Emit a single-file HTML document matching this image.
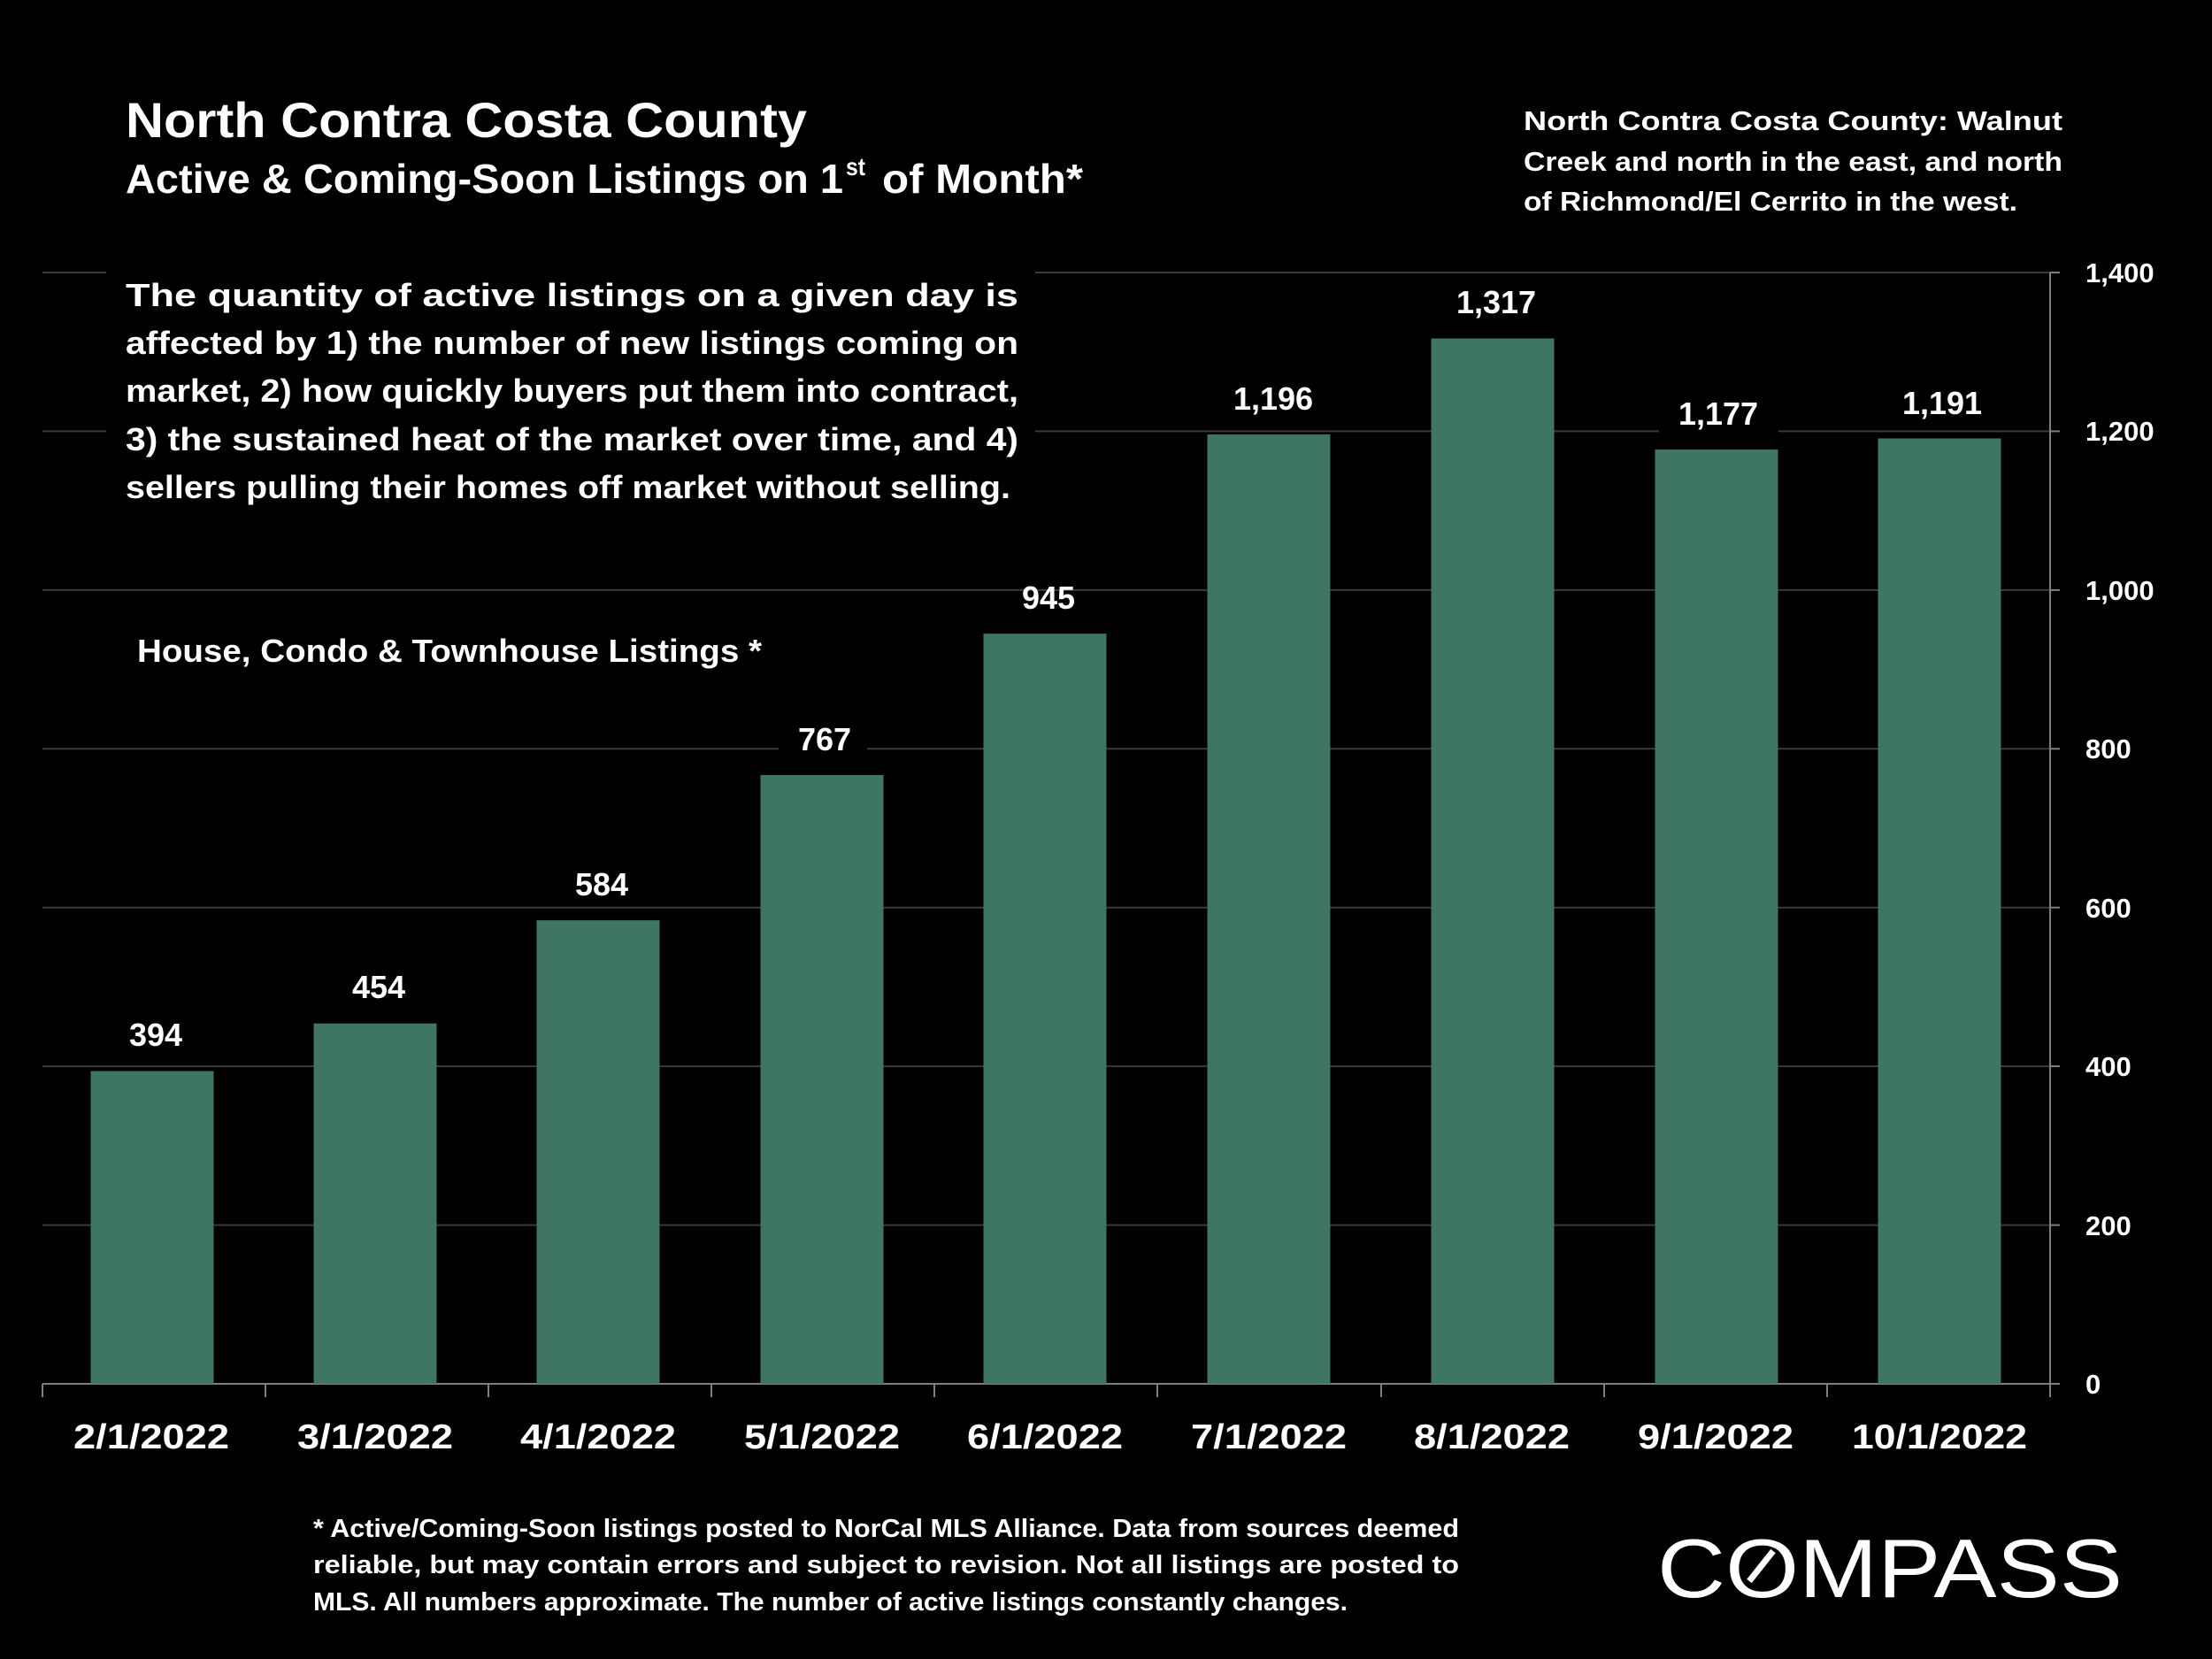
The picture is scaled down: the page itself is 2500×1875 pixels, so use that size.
<!DOCTYPE html>
<html><head><meta charset="utf-8"><style>
html,body{margin:0;padding:0;background:#000;}
svg{display:block;}
text{font-family:"Liberation Sans",sans-serif;fill:#fff;font-weight:bold;}
</style></head><body>
<svg width="2500" height="1875" viewBox="0 0 2500 1875" xmlns="http://www.w3.org/2000/svg">
<rect width="2500" height="1875" fill="#000"/>
<g stroke="#3a3a3a" stroke-width="2">
<line x1="48" y1="308" x2="2317" y2="308"/>
<line x1="48" y1="487.4" x2="2317" y2="487.4"/>
<line x1="48" y1="666.9" x2="2317" y2="666.9"/>
<line x1="48" y1="846.3" x2="2317" y2="846.3"/>
<line x1="48" y1="1025.7" x2="2317" y2="1025.7"/>
<line x1="48" y1="1205.1" x2="2317" y2="1205.1"/>
<line x1="48" y1="1384.6" x2="2317" y2="1384.6"/>
</g>
<rect x="120" y="295" width="1050" height="290" fill="#000"/>
<g stroke="#7f7f7f" stroke-width="2">
<line x1="48" y1="1564" x2="2328" y2="1564"/>
<line x1="2317" y1="308" x2="2317" y2="1564"/>
<line x1="2317" y1="308" x2="2328" y2="308"/>
<line x1="2317" y1="487.4" x2="2328" y2="487.4"/>
<line x1="2317" y1="666.9" x2="2328" y2="666.9"/>
<line x1="2317" y1="846.3" x2="2328" y2="846.3"/>
<line x1="2317" y1="1025.7" x2="2328" y2="1025.7"/>
<line x1="2317" y1="1205.1" x2="2328" y2="1205.1"/>
<line x1="2317" y1="1384.6" x2="2328" y2="1384.6"/>
<line x1="48" y1="1564" x2="48" y2="1579"/>
<line x1="300" y1="1564" x2="300" y2="1579"/>
<line x1="552" y1="1564" x2="552" y2="1579"/>
<line x1="804" y1="1564" x2="804" y2="1579"/>
<line x1="1056" y1="1564" x2="1056" y2="1579"/>
<line x1="1308" y1="1564" x2="1308" y2="1579"/>
<line x1="1561" y1="1564" x2="1561" y2="1579"/>
<line x1="1813" y1="1564" x2="1813" y2="1579"/>
<line x1="2065" y1="1564" x2="2065" y2="1579"/>
<line x1="2317" y1="1564" x2="2317" y2="1579"/>
</g>
<g fill="#3f7565">
<rect x="102.5" y="1210.5" width="139" height="353.5"/>
<rect x="354.5" y="1156.7" width="139" height="407.3"/>
<rect x="606.5" y="1040.1" width="139" height="523.9"/>
<rect x="859.5" y="875.9" width="139" height="688.1"/>
<rect x="1111.5" y="716.2" width="139" height="847.8"/>
<rect x="1364.5" y="491.0" width="139" height="1073"/>
<rect x="1617.5" y="382.5" width="139" height="1181.5"/>
<rect x="1870.5" y="508.1" width="139" height="1055.9"/>
<rect x="2122.5" y="495.5" width="139" height="1068.5"/>
</g>
<g font-size="36" text-anchor="middle">
<text x="176" y="1182">394</text>
<text x="428" y="1128">454</text>
<text x="680" y="1012">584</text>
<rect x="880" y="815" width="100" height="50" fill="#000"/>
<text x="932" y="848">767</text>
<text x="1185" y="688">945</text>
<rect x="1375" y="420" width="130" height="50" fill="#000"/>
<text x="1439" y="463">1,196</text>
<rect x="1625" y="310" width="130" height="50" fill="#000"/>
<text x="1691" y="354">1,317</text>
<rect x="1875" y="440" width="135" height="50" fill="#000"/>
<text x="1942" y="480">1,177</text>
<rect x="2127" y="425" width="135" height="50" fill="#000"/>
<text x="2195" y="468">1,191</text>
</g>
<g font-size="31">
<text x="2357" y="319">1,400</text>
<text x="2357" y="498">1,200</text>
<text x="2357" y="678">1,000</text>
<text x="2357" y="857">800</text>
<text x="2357" y="1037">600</text>
<text x="2357" y="1216">400</text>
<text x="2357" y="1396">200</text>
<text x="2357" y="1575">0</text>
</g>
<g font-size="39" text-anchor="middle">
<text x="171" y="1637" textLength="176" lengthAdjust="spacingAndGlyphs">2/1/2022</text>
<text x="424" y="1637" textLength="176" lengthAdjust="spacingAndGlyphs">3/1/2022</text>
<text x="676" y="1637" textLength="176" lengthAdjust="spacingAndGlyphs">4/1/2022</text>
<text x="929" y="1637" textLength="176" lengthAdjust="spacingAndGlyphs">5/1/2022</text>
<text x="1181" y="1637" textLength="176" lengthAdjust="spacingAndGlyphs">6/1/2022</text>
<text x="1434" y="1637" textLength="176" lengthAdjust="spacingAndGlyphs">7/1/2022</text>
<text x="1686" y="1637" textLength="176" lengthAdjust="spacingAndGlyphs">8/1/2022</text>
<text x="1939" y="1637" textLength="176" lengthAdjust="spacingAndGlyphs">9/1/2022</text>
<text x="2192" y="1637" textLength="198" lengthAdjust="spacingAndGlyphs">10/1/2022</text>
</g>
<text x="142" y="155" font-size="56" textLength="770" lengthAdjust="spacingAndGlyphs">North Contra Costa County</text>
<text x="142" y="218" font-size="46" textLength="811" lengthAdjust="spacingAndGlyphs">Active &amp; Coming-Soon Listings on 1</text>
<text x="956" y="198" font-size="28" textLength="22" lengthAdjust="spacingAndGlyphs">st</text>
<text x="997" y="218" font-size="46" textLength="227" lengthAdjust="spacingAndGlyphs">of Month*</text>
<g font-size="31">
<text x="1722" y="147" textLength="609" lengthAdjust="spacingAndGlyphs">North  Contra  Costa  County:  Walnut</text>
<text x="1722" y="193" textLength="609" lengthAdjust="spacingAndGlyphs">Creek and north in the east, and north</text>
<text x="1722" y="238" textLength="558" lengthAdjust="spacingAndGlyphs">of Richmond/El Cerrito in the west.</text>
</g>
<g font-size="36">
<text x="142" y="346" textLength="1009" lengthAdjust="spacingAndGlyphs">The  quantity  of  active  listings  on  a  given  day  is</text>
<text x="142" y="400" textLength="1009" lengthAdjust="spacingAndGlyphs">affected by 1) the number of new listings coming on</text>
<text x="142" y="454" textLength="1009" lengthAdjust="spacingAndGlyphs">market, 2) how quickly buyers put them into contract,</text>
<text x="142" y="509" textLength="1009" lengthAdjust="spacingAndGlyphs">3) the sustained heat of the market over time, and 4)</text>
<text x="142" y="563" textLength="1000" lengthAdjust="spacingAndGlyphs">sellers pulling their homes off market without selling.</text>
</g>
<text x="155" y="748" font-size="36" textLength="706" lengthAdjust="spacingAndGlyphs">House, Condo &amp; Townhouse Listings *</text>
<g font-size="29">
<text x="354" y="1737" textLength="1295" lengthAdjust="spacingAndGlyphs">* Active/Coming-Soon listings posted to NorCal MLS Alliance.  Data from sources deemed</text>
<text x="354" y="1778" textLength="1295" lengthAdjust="spacingAndGlyphs">reliable, but may contain errors and subject to revision.  Not all listings are posted to</text>
<text x="354" y="1820" textLength="1169" lengthAdjust="spacingAndGlyphs">MLS. All numbers approximate. The number of active listings constantly changes.</text>
</g>
<text x="1873" y="1805" font-size="94" style="font-weight:normal" textLength="526" lengthAdjust="spacingAndGlyphs">COMPASS</text>
<line x1="1977" y1="1787" x2="2004" y2="1753" stroke="#fff" stroke-width="7"/>
</svg>
</body></html>
